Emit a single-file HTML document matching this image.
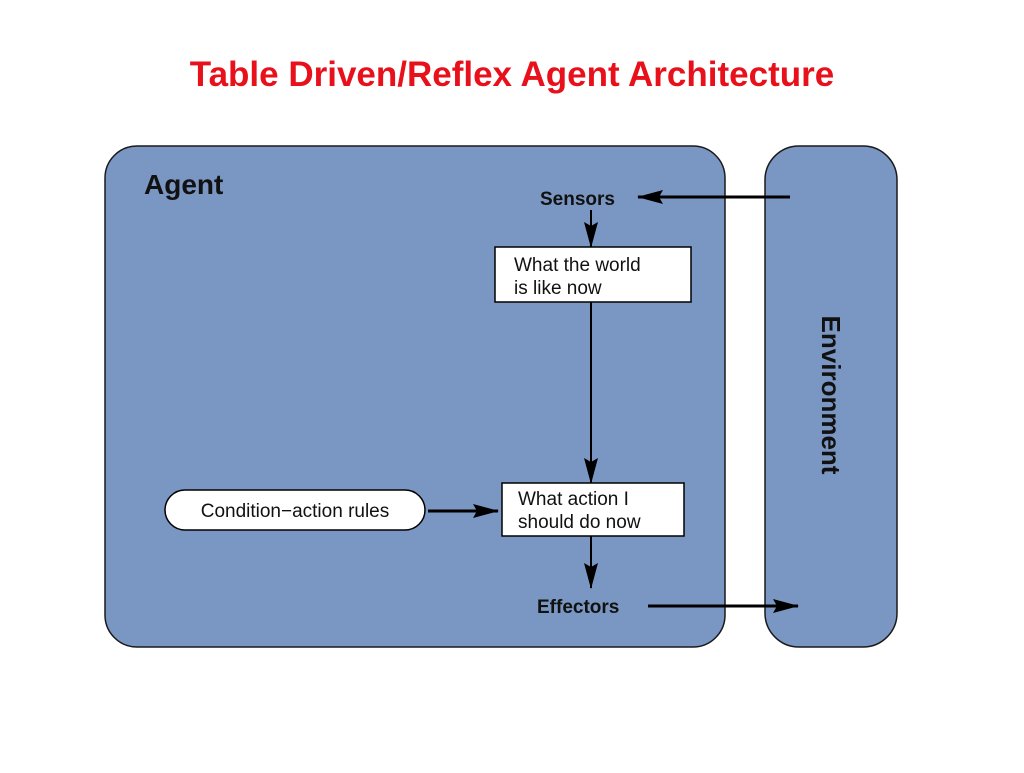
<!DOCTYPE html>
<html><head><meta charset="utf-8"><style>
body{margin:0;background:#fff;width:1024px;height:768px;overflow:hidden;font-family:"Liberation Sans",sans-serif}
</style></head><body>
<svg width="1024" height="768" xmlns="http://www.w3.org/2000/svg">
<text x="512" y="86" text-anchor="middle" font-family="Liberation Sans, sans-serif" font-weight="bold" font-size="35" fill="#e8101a">Table Driven/Reflex Agent Architecture</text>
<rect x="105" y="146" width="620" height="501" rx="32" ry="32" fill="#7a96c2" stroke="#1a1a1a" stroke-width="1.5"/>
<rect x="765" y="146" width="132" height="501" rx="34" ry="34" fill="#7a96c2" stroke="#1a1a1a" stroke-width="1.5"/>
<text x="144" y="194" font-weight="bold" font-size="28" fill="#111">Agent</text>
<text x="540" y="205" font-weight="bold" font-size="19" fill="#111">Sensors</text>
<text x="537" y="613" font-weight="bold" font-size="19" fill="#111">Effectors</text>
<text transform="translate(822,395) rotate(90)" text-anchor="middle" font-weight="bold" font-size="26" fill="#111">Environment</text>
<defs><marker id="a" markerWidth="10" markerHeight="8" refX="9" refY="4" orient="auto" markerUnits="userSpaceOnUse"><path d="M0,0 L10,4 L0,8 z" fill="#000"/></marker>
<marker id="b" markerWidth="26" markerHeight="14" refX="25" refY="7" orient="auto" markerUnits="userSpaceOnUse"><path d="M0,0 L26,7 L0,14 L4,7 z" fill="#000"/></marker></defs>
<line x1="790" y1="197" x2="638" y2="197" stroke="#000" stroke-width="3" marker-end="url(#b)"/>
<line x1="591" y1="210" x2="591" y2="247" stroke="#000" stroke-width="2" marker-end="url(#b)"/>
<rect x="495" y="247" width="196" height="55" fill="#fff" stroke="#000" stroke-width="1.5"/>
<text x="514" y="271" font-size="19" fill="#111">What the world</text>
<text x="514" y="294" font-size="19" fill="#111">is like now</text>
<line x1="591" y1="302" x2="591" y2="483" stroke="#000" stroke-width="2" marker-end="url(#b)"/>
<rect x="502" y="483" width="182" height="53" fill="#fff" stroke="#000" stroke-width="1.5"/>
<text x="518" y="505" font-size="19" fill="#111">What action I</text>
<text x="518" y="528" font-size="19" fill="#111">should do now</text>
<rect x="165" y="490" width="260" height="40" rx="20" ry="20" fill="#fff" stroke="#000" stroke-width="1.5"/>
<text x="295" y="517" text-anchor="middle" font-size="19" fill="#111">Condition−action rules</text>
<line x1="428" y1="511" x2="498" y2="511" stroke="#000" stroke-width="3" marker-end="url(#b)"/>
<line x1="591" y1="536" x2="591" y2="588" stroke="#000" stroke-width="2" marker-end="url(#b)"/>
<line x1="648" y1="606" x2="798" y2="606" stroke="#000" stroke-width="3" marker-end="url(#b)"/>
</svg>
</body></html>
